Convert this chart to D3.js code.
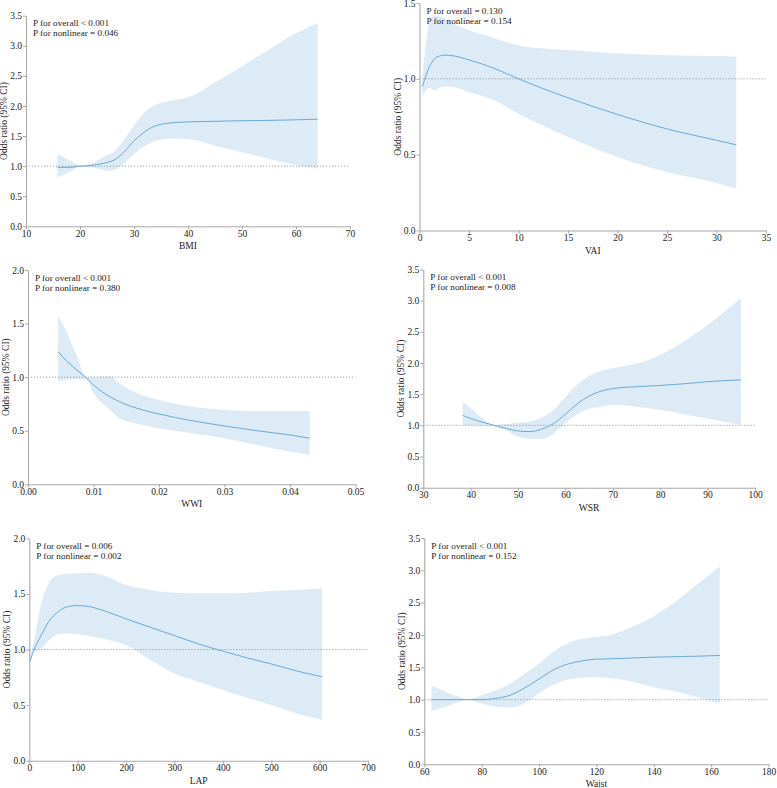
<!DOCTYPE html>
<html>
<head>
<meta charset="utf-8">
<script src="https://cdn.jsdelivr.net/npm/d3@7"></script>
<style>
  html, body { margin: 0; padding: 0; background: #ffffff; }
  svg { display: block; }
  text { font-family: "Liberation Serif", "Times New Roman", serif; fill: #222; }
</style>
</head>
<body>
<svg id="chart" width="777" height="788"></svg>
<script>
// ---------------- DATA ----------------
// BMI
const bmiX     = [15.8, 18, 20, 22, 24, 25, 26.5, 28, 30, 31, 33, 34, 36, 37, 40, 45, 50, 55, 60, 64];
const bmiOR    = [0.98, 0.98, 1.0, 1.01, 1.04, 1.06, 1.11, 1.22, 1.42, 1.5, 1.63, 1.67, 1.71, 1.72, 1.735, 1.745, 1.755, 1.76, 1.77, 1.78];
const bmiLow   = [0.81, 0.9, 0.99, 0.98, 0.94, 0.92, 0.94, 1.03, 1.2, 1.28, 1.38, 1.42, 1.45, 1.46, 1.45, 1.34, 1.23, 1.12, 1.02, 0.96];
const bmiHigh  = [1.2, 1.1, 1.01, 1.04, 1.13, 1.18, 1.25, 1.42, 1.68, 1.8, 1.97, 2.02, 2.07, 2.09, 2.14, 2.39, 2.66, 2.94, 3.21, 3.38];
const bmiTicksX = [10, 20, 30, 40, 50, 60, 70];
const bmiTicksY = [0, 0.5, 1.0, 1.5, 2.0, 2.5, 3.0, 3.5];

// VAI
const vaiX     = [0.3, 1, 1.5, 2, 2.5, 3, 5, 7.5, 10, 12.5, 15, 20, 25, 30, 32];
const vaiOR    = [0.95, 1.08, 1.13, 1.15, 1.156, 1.155, 1.125, 1.07, 1.0, 0.935, 0.875, 0.765, 0.67, 0.595, 0.565];
const vaiLow   = [0.88, 0.94, 0.925, 0.94, 0.95, 0.95, 0.914, 0.86, 0.77, 0.69, 0.617, 0.485, 0.385, 0.313, 0.275];
const vaiHigh  = [1.02, 1.37, 1.42, 1.41, 1.4, 1.38, 1.32, 1.27, 1.22, 1.2, 1.19, 1.167, 1.156, 1.15, 1.145];
const vaiTicksX = [0, 5, 10, 15, 20, 25, 30, 35];
const vaiTicksY = [0, 0.5, 1.0, 1.5];

// WWI
const wwiX     = [0.0046, 0.006, 0.0075, 0.0088, 0.01, 0.0125, 0.014, 0.0175, 0.02, 0.025, 0.03, 0.035, 0.04, 0.043];
const wwiOR    = [1.238, 1.145, 1.065, 1.0, 0.927, 0.818, 0.77, 0.694, 0.656, 0.594, 0.544, 0.50, 0.46, 0.43];
const wwiLow   = [0.968, 0.975, 0.985, 0.98, 0.85, 0.694, 0.616, 0.554, 0.523, 0.476, 0.43, 0.367, 0.305, 0.274];
const wwiHigh  = [1.565, 1.41, 1.19, 1.0, 1.0, 1.01, 0.94, 0.83, 0.787, 0.725, 0.694, 0.685, 0.685, 0.685];
const wwiTicksX = [0, 0.01, 0.02, 0.03, 0.04, 0.05];
const wwiTicksY = [0, 0.5, 1.0, 1.5, 2.0];

// WSR
const wsrX     = [38.3, 40, 42.5, 45, 47.5, 50, 52.5, 55, 57.5, 60, 62.5, 65, 67.5, 70, 75, 80, 85, 90, 97];
const wsrOR    = [1.16, 1.11, 1.05, 1.0, 0.95, 0.91, 0.9, 0.94, 1.03, 1.18, 1.345, 1.47, 1.55, 1.59, 1.62, 1.64, 1.667, 1.70, 1.73];
const wsrLow   = [1.0, 1.0, 1.0, 0.98, 0.92, 0.82, 0.78, 0.78, 0.87, 1.04, 1.18, 1.27, 1.3, 1.33, 1.3, 1.25, 1.18, 1.11, 1.0];
const wsrHigh  = [1.38, 1.28, 1.11, 1.0, 1.02, 1.04, 1.06, 1.13, 1.25, 1.46, 1.65, 1.79, 1.87, 1.92, 1.99, 2.13, 2.35, 2.61, 3.04];
const wsrTicksX = [30, 40, 50, 60, 70, 80, 90, 100];
const wsrTicksY = [0, 0.5, 1.0, 1.5, 2.0, 2.5, 3.0, 3.5];

// LAP
const lapX     = [1, 10, 25, 40, 60, 75, 100, 125, 150, 200, 250, 300, 350, 400, 450, 500, 550, 605];
const lapOR    = [0.89, 1.0, 1.13, 1.25, 1.34, 1.38, 1.395, 1.385, 1.355, 1.275, 1.2, 1.125, 1.05, 0.985, 0.925, 0.87, 0.81, 0.755];
const lapLow   = [0.875, 0.98, 1.01, 1.08, 1.14, 1.145, 1.14, 1.12, 1.1, 1.04, 0.905, 0.785, 0.71, 0.635, 0.565, 0.5, 0.43, 0.365];
const lapHigh  = [0.92, 1.085, 1.415, 1.595, 1.67, 1.68, 1.685, 1.69, 1.67, 1.58, 1.535, 1.51, 1.505, 1.505, 1.51, 1.525, 1.535, 1.55];
const lapTicksX = [0, 100, 200, 300, 400, 500, 600, 700];
const lapTicksY = [0, 0.5, 1.0, 1.5, 2.0];

// Waist
const waistX    = [62.5, 67.5, 72.5, 75, 80, 85, 90, 95, 100, 105, 110, 115, 120, 125, 130, 140, 150, 155, 163];
const waistOR   = [1.0, 1.0, 1.0, 1.0, 1.0, 1.02, 1.07, 1.18, 1.32, 1.46, 1.55, 1.6, 1.626, 1.632, 1.64, 1.657, 1.667, 1.672, 1.683];
const waistLow  = [0.83, 0.89, 0.97, 1.0, 0.94, 0.89, 0.88, 0.945, 1.1, 1.23, 1.31, 1.34, 1.35, 1.33, 1.3, 1.19, 1.1, 1.04, 0.94];
const waistHigh = [1.22, 1.12, 1.04, 1.0, 1.07, 1.15, 1.25, 1.4, 1.56, 1.745, 1.87, 1.94, 1.97, 2.0, 2.08, 2.29, 2.6, 2.78, 3.06];
const waistTicksX = [60, 80, 100, 120, 140, 160, 180];
const waistTicksY = [0, 0.5, 1.0, 1.5, 2.0, 2.5, 3.0, 3.5];

const panelNames  = ["BMI", "VAI", "WWI", "WSR", "LAP", "Waist"];
const pOverall    = ["P for overall < 0.001", "P for overall = 0.130", "P for overall < 0.001", "P for overall < 0.001", "P for overall = 0.006", "P for overall < 0.001"];
const pNonlinear  = ["P for nonlinear = 0.046", "P for nonlinear = 0.154", "P for nonlinear = 0.380", "P for nonlinear = 0.008", "P for nonlinear = 0.002", "P for nonlinear = 0.152"];
const yTitle = "Odds ratio (95% CI)";

// ---------------- LAYOUT ----------------
const panels = [
  { x: bmiX,   est: bmiOR,   lo: bmiLow,   hi: bmiHigh,   tx: bmiTicksX,   ty: bmiTicksY,   fmt: d3.format(".0f"),
    box: { left: 26,    right: 350,   top: 15.7,  bottom: 226.3 } },
  { x: vaiX,   est: vaiOR,   lo: vaiLow,   hi: vaiHigh,   tx: vaiTicksX,   ty: vaiTicksY,   fmt: d3.format(".0f"),
    box: { left: 419.5, right: 766,   top: 3,     bottom: 230.5 } },
  { x: wwiX,   est: wwiOR,   lo: wwiLow,   hi: wwiHigh,   tx: wwiTicksX,   ty: wwiTicksY,   fmt: d3.format(".2f"),
    box: { left: 28,    right: 355.5, top: 270,   bottom: 484.3 } },
  { x: wsrX,   est: wsrOR,   lo: wsrLow,   hi: wsrHigh,   tx: wsrTicksX,   ty: wsrTicksY,   fmt: d3.format(".0f"),
    box: { left: 423.3, right: 755,   top: 269.5, bottom: 487.7 } },
  { x: lapX,   est: lapOR,   lo: lapLow,   hi: lapHigh,   tx: lapTicksX,   ty: lapTicksY,   fmt: d3.format(".0f"),
    box: { left: 29.3,  right: 368,   top: 538.3, bottom: 760.7 } },
  { x: waistX, est: waistOR, lo: waistLow, hi: waistHigh, tx: waistTicksX, ty: waistTicksY, fmt: d3.format(".0f"),
    box: { left: 424.3, right: 768.6, top: 538,   bottom: 764.3 } }
];

const svg = d3.select("#chart");
const axisColor = "#a8a8a8";
const bandColor = "#dcebf6";
const lineColor = "#6aaad4";

panels.forEach((p, i) => {
  const b = p.box;
  const xs = d3.scaleLinear().domain(d3.extent(p.tx)).range([b.left, b.right]);
  const ys = d3.scaleLinear().domain(d3.extent(p.ty)).range([b.bottom, b.top]);
  const g = svg.append("g");
  const rows = p.x.map((v, k) => ({ x: v, e: p.est[k], l: p.lo[k], h: p.hi[k] }));

  // CI band
  g.append("path")
    .datum(rows)
    .attr("fill", bandColor)
    .attr("stroke", "none")
    .attr("d", d3.area().curve(d3.curveMonotoneX)
      .x(d => xs(d.x)).y0(d => ys(d.l)).y1(d => ys(d.h)));

  // reference line at OR = 1
  g.append("line")
    .attr("x1", xs.range()[0]).attr("x2", xs.range()[1])
    .attr("y1", ys(1)).attr("y2", ys(1))
    .attr("stroke", "#8a8a8a")
    .attr("stroke-width", 0.8)
    .attr("stroke-dasharray", "1.2,1.8");

  // estimate line
  g.append("path")
    .datum(rows)
    .attr("fill", "none")
    .attr("stroke", lineColor)
    .attr("stroke-width", 1)
    .attr("d", d3.line().curve(d3.curveMonotoneX).x(d => xs(d.x)).y(d => ys(d.e)));

  // axes
  const xAxis = g.append("g")
    .attr("transform", `translate(0,${b.bottom})`)
    .call(d3.axisBottom(xs).tickValues(p.tx).tickFormat(p.fmt).tickSize(3).tickSizeOuter(0).tickPadding(1));
  const yAxis = g.append("g")
    .attr("transform", `translate(${b.left},0)`)
    .call(d3.axisLeft(ys).tickValues(p.ty).tickFormat(d3.format(".1f")).tickSize(3).tickSizeOuter(0).tickPadding(1));
  [xAxis, yAxis].forEach(a => {
    a.select(".domain").attr("stroke", axisColor).attr("stroke-width", 1.1);
    a.selectAll(".tick line").attr("stroke", axisColor);
    a.selectAll(".tick text")
      .attr("font-family", "'Liberation Serif', 'Times New Roman', serif")
      .attr("font-size", 9.5).attr("fill", "#222");
  });

  // axis titles
  g.append("text")
    .attr("x", (b.left + b.right) / 2)
    .attr("y", b.bottom + 23)
    .attr("text-anchor", "middle")
    .attr("font-size", 9.5)
    .text(panelNames[i]);
  g.append("text")
    .attr("transform", `translate(${b.left - 19},${(b.top + b.bottom) / 2}) rotate(-90)`)
    .attr("text-anchor", "middle")
    .attr("font-size", 9.5)
    .text(yTitle);

  // p-value annotations
  g.append("text").attr("x", b.left + 7).attr("y", b.top + 10.5).attr("font-size", 9.2).text(pOverall[i]);
  g.append("text").attr("x", b.left + 7).attr("y", b.top + 20.5).attr("font-size", 9.2).text(pNonlinear[i]);
});
</script>
</body>
</html>
